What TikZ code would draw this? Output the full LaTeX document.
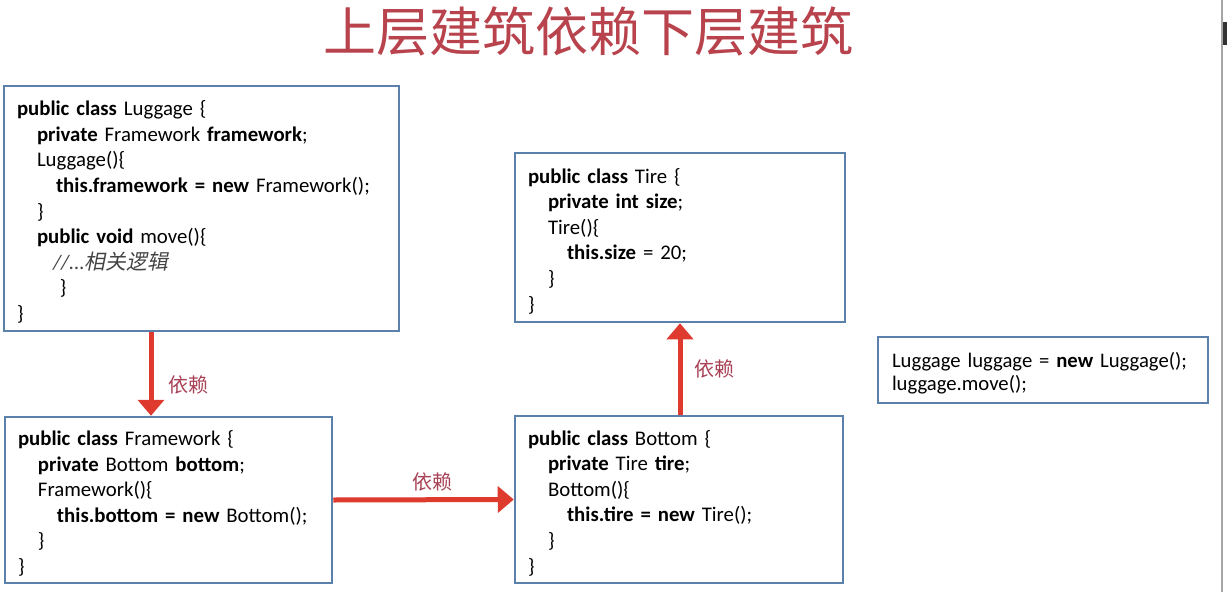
\documentclass[tikz,border=0pt]{standalone}
\usepackage{fontspec}
\setmainfont{Carlito}
\newfontfamily\cjk{Noto Sans CJK SC}
\newfontfamily\cjkslant[FakeSlant=0.2]{Noto Sans CJK SC}
\usetikzlibrary{arrows.meta}
\definecolor{boxblue}{HTML}{5B80AA}
\definecolor{deprd}{HTML}{DE3A2E}
\definecolor{labelred}{HTML}{A94257}
\definecolor{titlered}{HTML}{B8434D}
\definecolor{commentgray}{HTML}{444444}
\newcommand\codefont{\fontsize{20.8}{25.6}\selectfont}
\newcommand\indt[1]{\hspace*{#1pt}}
% taller first line, so each text block sits a little lower in its frame
\newcommand\topstrut{\rule{0pt}{22pt}}
\begin{document}
\begin{tikzpicture}[x=1pt,y=-1pt,
  codebox/.style={draw=boxblue, line width=2.5pt, fill=white, inner sep=0pt,
    align=left, font=\codefont},
  dep/.style={draw=deprd, line width=5pt, -{Triangle[length=16pt,width=26pt]}},
  deplabel/.style={text=labelred, font=\cjk\fontsize{20}{20}\selectfont, inner sep=0pt}]
\useasboundingbox[fill=white] (0,0) rectangle (1227,592);

% window edge on the right
\fill[gray!70] (1221,0) rectangle (1223,592);
\fill[black!80] (1223,22) rectangle (1227,45);

% heading
\node[text=titlered, font=\cjk\fontsize{53}{53}\selectfont] (title) at (588,31) {上层建筑依赖下层建筑};

% classes
\node[codebox, minimum width=395pt, minimum height=245pt, text width=369pt] (lug) at (201.5,208.5) {%
\topstrut\textbf{public class} Luggage \{\\
\indt{20}\textbf{private} Framework \textbf{framework};\\
\indt{20}Luggage()\{\\
\indt{39}\textbf{this.framework = new} Framework();\\
\indt{20}\}\\
\indt{20}\textbf{public void} move()\{\\
\indt{36}{\color{commentgray}\itshape //...{\cjkslant 相关逻辑}}\\
\indt{43}\}\\
\}};

\node[codebox, minimum width=327pt, minimum height=166pt, text width=301pt] (fw) at (168.5,500) {%
\topstrut\textbf{public class} Framework \{\\
\indt{20}\textbf{private} Bottom \textbf{bottom};\\
\indt{20}Framework()\{\\
\indt{39}\textbf{this.bottom = new} Bottom();\\
\indt{20}\}\\
\}};

\node[codebox, minimum width=330pt, minimum height=169pt, text width=304pt] (tire) at (680,237.5) {%
\topstrut\textbf{public class} Tire \{\\
\indt{20}\textbf{private int size};\\
\indt{20}Tire()\{\\
\indt{39}\textbf{this.size} = 20;\\
\indt{20}\}\\
\}};

\node[codebox, minimum width=328pt, minimum height=167pt, text width=302pt] (bot) at (679,499.5) {%
\topstrut\textbf{public class} Bottom \{\\
\indt{20}\textbf{private} Tire \textbf{tire};\\
\indt{20}Bottom()\{\\
\indt{39}\textbf{this.tire = new} Tire();\\
\indt{20}\}\\
\}};

\node[codebox, minimum width=330pt, minimum height=66pt, text width=302pt,
      font=\fontsize{20.7}{23}\selectfont] (use) at (1043,370) {%
\topstrut Luggage luggage = \textbf{new} Luggage();\\
luggage.move();};

% dependencies
\coordinate (ax) at (151,0);
\draw[dep] (lug.south -| ax) -- (fw.north -| ax);
\draw[dep] (fw.east) -- (bot.west);
\draw[dep] (bot.north -| tire.south) -- (tire.south);

\node[deplabel] (l1) at (188,385) {依赖};
\node[deplabel] (l2) at (432,482) {依赖};
\node[deplabel] (l3) at (714,369) {依赖};
\end{tikzpicture}
\end{document}
